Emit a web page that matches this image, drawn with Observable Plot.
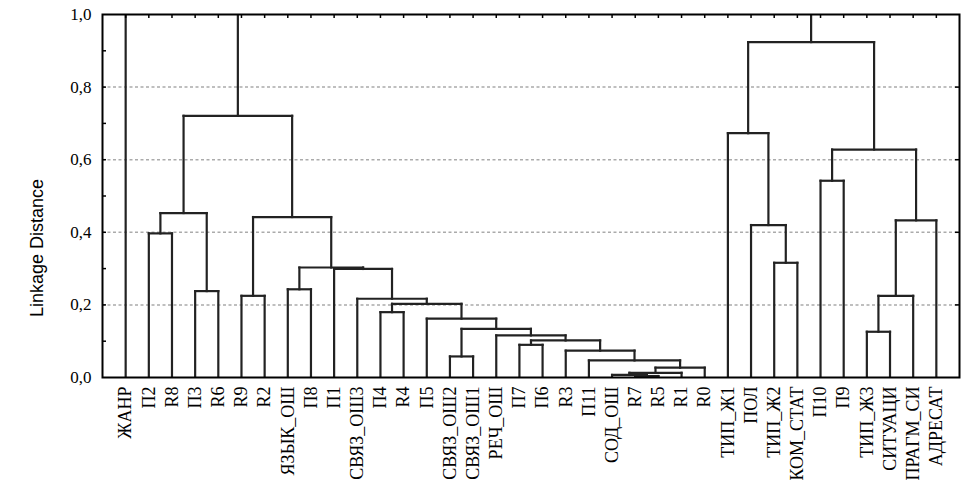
<!DOCTYPE html>
<html>
<head>
<meta charset="utf-8">
<script src="https://cdn.jsdelivr.net/npm/d3@7"></script>
<script src="https://cdn.jsdelivr.net/npm/@observablehq/plot@0.6"></script>
<style>
  html, body { margin: 0; padding: 0; background: #fff; }
  #chart svg { display: block; }
</style>
</head>
<body>
<div id="chart"></div>
<script>
// Leaves in dendrogram order
const leaves = ["ЖАНР","П2","R8","П3","R6","R9","R2","ЯЗЫК_ОШ","П8","П1","СВЯЗ_ОШ3","П4","R4","П5","СВЯЗ_ОШ2","СВЯЗ_ОШ1","РЕЧ_ОШ","П7","П6","R3","П11","СОД_ОШ","R7","R5","R1","R0","ТИП_Ж1","ПОЛ","ТИП_Ж2","КОМ_СТАТ","П10","П9","ТИП_Ж3","СИТУАЦИ","ПРАГМ_СИ","АДРЕСАТ"];

// Merge steps: node id, left member, right member, linkage distance
const mergeIds    = ["n1","n2","n3","n4","n5","n6","n7","n8","n9","n10","n11","n12","n13","n14","n15","n16","n17","n18","n19","n20","n21","n22","n23","n24","n25","n26","n27","n28","n29","n30","n31","n32","n33","n34","n35"];
const mergeLeft   = ["R7","СОД_ОШ","n2","n3","П11","R3","П7","n7","РЕЧ_ОШ","СВЯЗ_ОШ2","n10","П5","П4","n13","СВЯЗ_ОШ3","П1","ЯЗЫК_ОШ","n17","R9","n19","П2","П3","n21","n23","ТИП_Ж2","ПОЛ","ТИП_Ж1","П10","ТИП_Ж3","n29","n30","n28","n27","ЖАНР","n34"];
const mergeRight  = ["R5","n1","R1","R0","n4","n5","П6","n6","n8","СВЯЗ_ОШ1","n9","n11","R4","n12","n14","n15","П8","n16","R2","n18","R8","R6","n22","n20","КОМ_СТАТ","n25","n26","П9","СИТУАЦИ","ПРАГМ_СИ","АДРЕСАТ","n31","n32","n24","n33"];
const mergeHeight = [0.004,0.007,0.013,0.027,0.047,0.074,0.090,0.102,0.116,0.058,0.134,0.162,0.180,0.203,0.217,0.299,0.243,0.303,0.225,0.442,0.397,0.238,0.453,0.721,0.316,0.420,0.673,0.542,0.126,0.225,0.433,0.628,0.924,1.15,1.30];

const yLabelTicks = [0, 0.2, 0.4, 0.6, 0.8, 1.0];
const yMinorTicks = [0.1, 0.2, 0.3, 0.4, 0.5, 0.6, 0.7, 0.8, 0.9];
const gridValues  = [0.2, 0.4, 0.6, 0.8];
const yTitle = "Linkage Distance";

// Build segments from the merge table
const pos = new Map();
leaves.forEach((l, i) => pos.set(l, {x: i, h: 0}));
const segs = [];
mergeIds.forEach((id, k) => {
  const a = pos.get(mergeLeft[k]), b = pos.get(mergeRight[k]), h = mergeHeight[k];
  segs.push({x1: a.x, y1: a.h, x2: a.x, y2: h});
  segs.push({x1: b.x, y1: b.h, x2: b.x, y2: h});
  segs.push({x1: a.x, y1: h, x2: b.x, y2: h});
  pos.set(id, {x: (a.x + b.x) / 2, h});
});
const leafIdx = leaves.map((_, i) => i);

const W = 978, H = 494, mL = 102, mR = 19, mT = 14, mB = 117;
const frameW = W - mL - mR, frameH = H - mT - mB;

const chart = Plot.plot({
  width: W, height: H,
  marginLeft: mL, marginRight: mR, marginTop: mT, marginBottom: mB,
  style: {background: "#fff", color: "#000"},
  x: {domain: [-1, leaves.length], axis: null},
  y: {domain: [0, 1], axis: null},
  marks: [
    Plot.ruleY(gridValues, {stroke: "#ababab", strokeWidth: 1.5, strokeDasharray: "3,2.5"}),
    Plot.link(segs, {x1: "x1", y1: "y1", x2: "x2", y2: "y2", stroke: "#222", strokeWidth: 2.2, strokeLinecap: "square", clip: true}),
    Plot.tickX(leafIdx, {x: d => d, insetBottom: frameH - 4, stroke: "#000", strokeWidth: 1.5}),
    Plot.tickY(yMinorTicks, {y: d => d, insetRight: frameW - 4, stroke: "#000", strokeWidth: 1.5}),
    Plot.tickY(gridValues, {y: d => d, insetLeft: frameW - 4, stroke: "#000", strokeWidth: 1.5}),
    Plot.frame({stroke: "#000", strokeWidth: 2}),
    Plot.axisX(leafIdx, {tickFormat: i => leaves[i], tickRotate: -90, tickSize: 0, tickPadding: 9, fontSize: 18, fontFamily: "Liberation Serif", label: null}),
    Plot.axisY(yLabelTicks, {tickFormat: d => d.toFixed(1).replace(".", ","), tickSize: 0, tickPadding: 11, fontSize: 17, fontFamily: "Liberation Serif", label: null}),
    Plot.text([yTitle], {text: d => d, frameAnchor: "left", textAnchor: "middle", dx: -65, dy: 52, rotate: -90, fontSize: 18, fontFamily: "Liberation Sans", fill: "#000"})
  ]
});
document.getElementById("chart").appendChild(chart);
</script>
</body>
</html>
